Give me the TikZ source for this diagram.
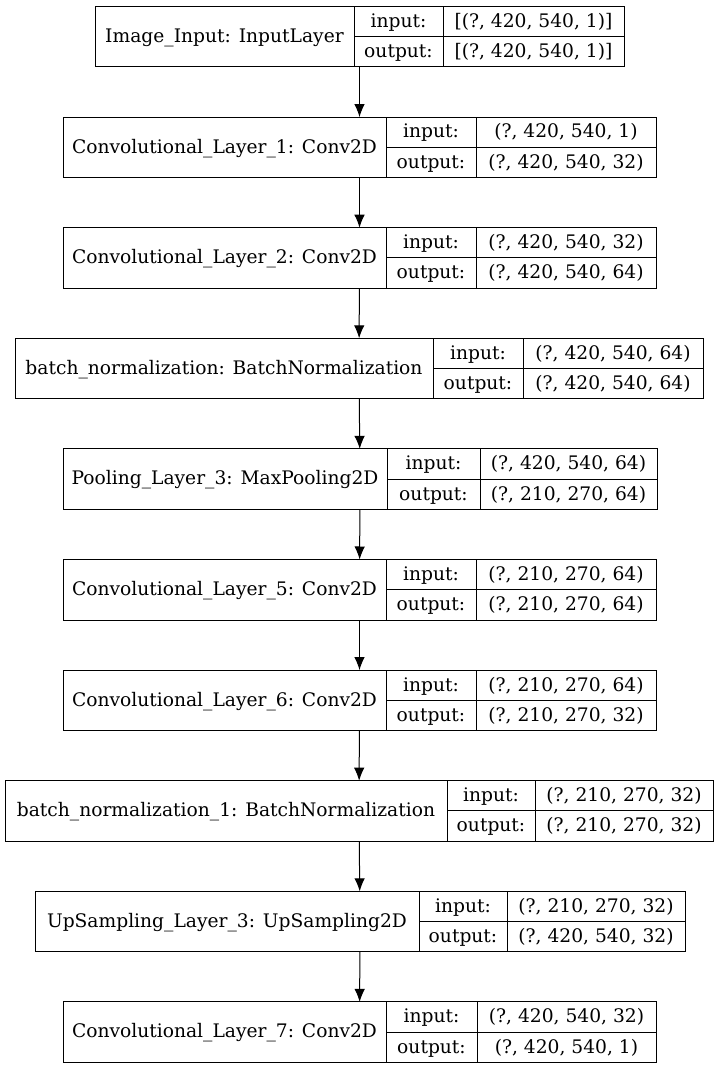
\documentclass[tikz,border=0pt]{standalone}
\usepackage{fontspec}
\setmainfont{DejaVu Serif}
\usepackage{tikz}
\usetikzlibrary{arrows.meta}

\begin{document}
\begin{tikzpicture}[x=0.75pt,y=-0.75pt]
  \tikzstyle{layer}=[draw,line width=0.75pt,rectangle,inner sep=0pt,outer sep=0pt,minimum height=45.375pt]
  \tikzstyle{cell}=[line width=0.75pt]
  \tikzstyle{txt}=[inner sep=0pt,text height=10.5pt,text depth=1.8pt,font=\fontsize{14}{16}\selectfont]
  \tikzstyle{flow}=[-{Latex[length=9.75pt,width=7.9pt]},line width=0.75pt]
  \useasboundingbox (0,0) rectangle (719,1069);
  \foreach \i/\l/\a/\b/\r/\name/\in/\out in {
    1/95/354/443/624/{Image\_Input: InputLayer}/{[(?, 420, 540, 1)]}/{[(?, 420, 540, 1)]},
    2/63/386/476/656/{Convolutional\_Layer\_1: Conv2D}/{(?, 420, 540, 1)}/{(?, 420, 540, 32)},
    3/63/386/476/656/{Convolutional\_Layer\_2: Conv2D}/{(?, 420, 540, 32)}/{(?, 420, 540, 64)},
    4/15/433/523/703/{batch\_normalization: BatchNormalization}/{(?, 420, 540, 64)}/{(?, 420, 540, 64)},
    5/63/387/480/657/{Pooling\_Layer\_3: MaxPooling2D}/{(?, 420, 540, 64)}/{(?, 210, 270, 64)},
    6/63/386/476/656/{Convolutional\_Layer\_5: Conv2D}/{(?, 210, 270, 64)}/{(?, 210, 270, 64)},
    7/63/386/476/656/{Convolutional\_Layer\_6: Conv2D}/{(?, 210, 270, 64)}/{(?, 210, 270, 32)},
    8/5/447/535/713/{batch\_normalization\_1: BatchNormalization}/{(?, 210, 270, 32)}/{(?, 210, 270, 32)},
    9/35/419/507/685/{UpSampling\_Layer\_3: UpSampling2D}/{(?, 210, 270, 32)}/{(?, 420, 540, 32)},
    10/63/386/477/656/{Convolutional\_Layer\_7: Conv2D}/{(?, 420, 540, 32)}/{(?, 420, 540, 1)}} {
    \pgfmathsetmacro{\t}{6.5+110.6*(\i-1)}
    \node[layer,minimum width={(\r-\l)*0.75pt}] (L\i) at ({(\l+\r)/2},\t+30.25) {};
    \draw[cell] (\a,\t) -- (\a,\t+60.5) (\b,\t) -- (\b,\t+60.5) (\a,\t+30.25) -- (\r,\t+30.25);
    \node[txt] (N\i) at ({(\l+\a)/2},\t+30.25) {\name};
    \node[txt] (I\i) at ({(\a+\b)/2},\t+15.1) {input:};
    \node[txt] (O\i) at ({(\a+\b)/2},\t+45.4) {output:};
    \node[txt] (SI\i) at ({(\b+\r)/2},\t+15.1) {\in};
    \node[txt] (SO\i) at ({(\b+\r)/2},\t+45.4) {\out};
  }
  \foreach \x/\y in {1/2,2/3,3/4,4/5,5/6,6/7,7/8,8/9,9/10} {
    \draw[flow] (L\x) -- (L\y);
  }
\end{tikzpicture}
\end{document}
